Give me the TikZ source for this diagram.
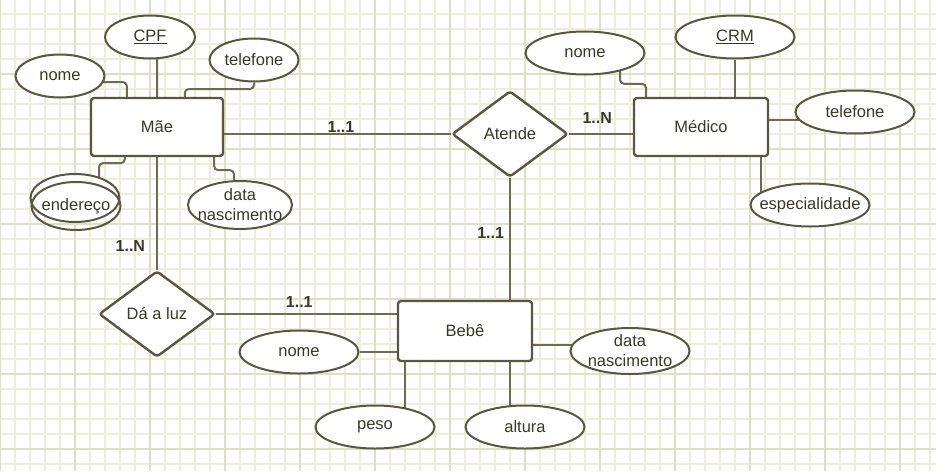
\documentclass[tikz,border=0pt]{standalone}
\usepackage{fontspec}
\setmainfont{Liberation Sans}
\usetikzlibrary{shapes.geometric}
\definecolor{linha}{HTML}{726A4E}
\definecolor{borda}{HTML}{5B5640}
\definecolor{texto}{HTML}{3B3829}
\definecolor{gradeA}{HTML}{ECEED8}
\definecolor{gradeB}{HTML}{DDE0C2}
\pgfdeclarelayer{grade}
\pgfdeclarelayer{fundo}
\pgfsetlayers{grade,fundo,main}
\tikzset{
  entidade/.style={draw=borda,line width=2.4pt,fill=white,rounded corners=3pt,
    minimum width=132pt,minimum height=58pt,text=texto},
  atributo/.style={ellipse,draw=borda,line width=2pt,fill=white,inner sep=-10pt,
    minimum width=119pt,minimum height=43pt,text=texto,align=center},
  relacao/.style={diamond,draw=borda,line width=2.4pt,fill=white,rounded corners=3pt,
    inner sep=0pt,minimum width=116pt,minimum height=86pt,text=texto},
  card/.style={font=\fontsize{16}{20}\selectfont\bfseries,text=texto,inner sep=1pt},
  ligacao/.style={draw=linha,line width=2pt,rounded corners=4pt},
}

\begin{document}
\begin{tikzpicture}[x=1pt,y=-1pt,font=\fontsize{16.5}{20}\selectfont]
  \useasboundingbox (0,0) rectangle (936,471);
  % grade
  \begin{pgfonlayer}{grade}
    \fill[white] (0,0) rectangle (936,471);
    \foreach \x in {0,15,...,930} \draw[gradeA,line width=1.2pt] (\x,0) -- (\x,471);
    \foreach \y in {14,29,...,470} \draw[gradeA,line width=1.2pt] (0,\y) -- (936,\y);
    \foreach \x in {0,75,...,900} \draw[gradeB,line width=1.2pt] (\x,0) -- (\x,471);
    \foreach \y in {74,149,...,449} \draw[gradeB,line width=1.2pt] (0,\y) -- (936,\y);
  \end{pgfonlayer}

  % entidades e relacoes
  \node[entidade](mae) at (157,127) {Mãe};
  \node[entidade,minimum width=134pt](medico) at (701,127) {Médico};
  \node[entidade,minimum width=134pt,minimum height=60pt](bebe) at (465,331) {Bebê};
  \node[relacao](atende) at (510,134) {Atende};
  \node[relacao](daluz) at (157,314) {Dá a luz};

  % atributos
  \node[atributo,minimum width=90pt](cpf) at (150,37) {\underline{CPF}};
  \node[atributo,minimum width=89pt](nomeM) at (60,76) {nome};
  \node[atributo,minimum width=89pt](telM) at (254,60) {telefone};
  \node[atributo,minimum width=89pt,minimum height=48pt](endA) at (75,198) {};
  \node[atributo,minimum width=89pt,minimum height=48pt,fill=none](endB) at (76,206) {endereço};
  \node[atributo,minimum width=104pt,minimum height=48pt](dnM) at (240,205) {data\\nascimento};
  \node[atributo](crm) at (735,37) {\underline{CRM}};
  \node[atributo](nomeD) at (585,53) {nome};
  \node[atributo](telD) at (855,112) {telefone};
  \node[atributo](esp) at (810,205) {especialidade};
  \node[atributo](nomeB) at (299,352) {nome};
  \node[atributo](peso) at (375,427) {peso};
  \node[atributo](altura) at (525,427) {altura};
  \node[atributo,minimum height=46pt](dnB) at (630,351) {data\\nascimento};

  \begin{pgfonlayer}{fundo}
    \draw[ligacao] (mae.east |- atende) -- node[card,above,pos=0.515]{1..1} (atende.west);
    \draw[ligacao] (atende.east) -- node[card,above=9pt,pos=0.44]{1..N} (atende.east -| medico.west);
    \draw[ligacao] (atende.south) -- node[card,left=4pt,pos=0.45]{1..1} (atende.south |- bebe.north);
    \draw[ligacao] (mae.south) -- node[card,left=10pt,pos=0.79]{1..N} (daluz.north);
    \draw[ligacao] (daluz.east) -- node[card,above=5pt,pos=0.46]{1..1} (daluz.east -| bebe.west);

    \draw[ligacao] (cpf) -| (mae.north);
    \draw[ligacao] ([yshift=-6pt]nomeM.center) -| ([xshift=37pt]mae.north west);
    \draw[ligacao] (telM) -- ++(0,29) -| ([xshift=95pt]mae.north west);
    \draw[ligacao] ([xshift=35pt]mae.south west) -- ++(0,6) -| ([xshift=24pt]endA.center);
    \draw[ligacao] ([xshift=-10pt]mae.south east) -- ++(0,13) -| ([xshift=-6pt]dnM.center);

    \draw[ligacao] (crm) -- (crm |- medico.north);
    \draw[ligacao] ([xshift=35pt]nomeD.center) |- ([xshift=-55pt,yshift=13pt]medico.north) -- ([xshift=-55pt]medico.north);
    \draw[ligacao] ([yshift=7pt]medico.east) -- ([yshift=7pt]medico.east -| telD);
    \draw[ligacao] ([xshift=-8pt]medico.south east) -- ([xshift=-8pt]medico.south east |- esp);

    \draw[ligacao] (nomeB) -- (nomeB -| bebe.west);
    \draw[ligacao] ([xshift=8pt]bebe.south west) -- ([xshift=8pt]bebe.south west |- peso);
    \draw[ligacao] ([xshift=45pt]bebe.south) -- ([xshift=45pt]bebe.south |- altura);
    \draw[ligacao] ([yshift=-14pt]bebe.east) -- ([yshift=-14pt]bebe.east -| dnB);
  \end{pgfonlayer}
\end{tikzpicture}
\end{document}
